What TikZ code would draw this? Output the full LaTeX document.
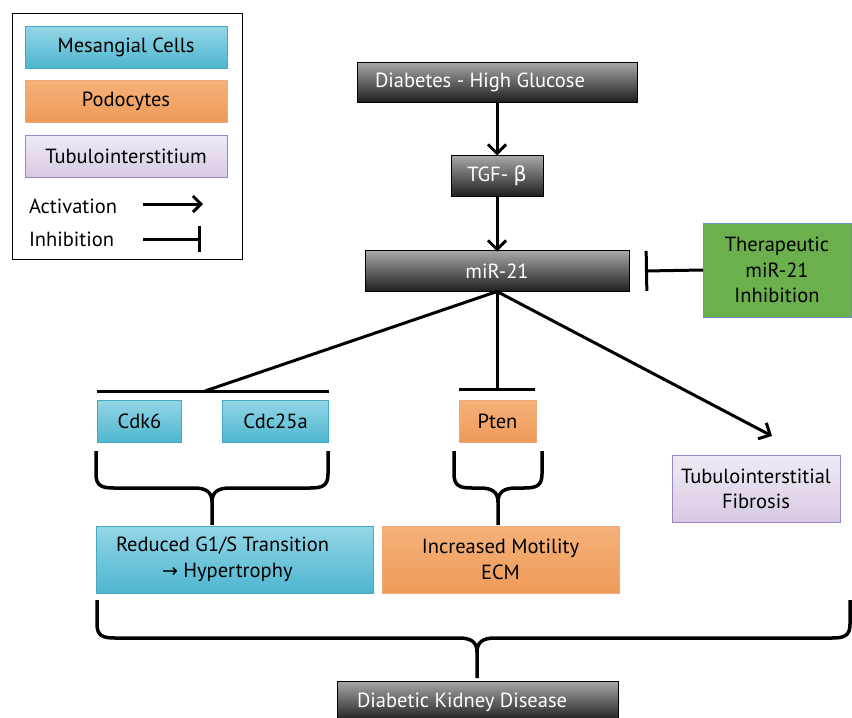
\documentclass[tikz,border=0pt]{standalone}
\usepackage{fontspec}
\setmainfont{PT Sans}
\newfontfamily\symfont{DejaVu Sans}
\usetikzlibrary{arrows.meta}
\definecolor{cyanT}{HTML}{95D6E6}
\definecolor{cyanB}{HTML}{4DB6CF}
\definecolor{cyanD}{HTML}{45A9C2}
\definecolor{oranT}{HTML}{F5B27A}
\definecolor{oranB}{HTML}{EE9A58}
\definecolor{oranD}{HTML}{F0A878}
\definecolor{purpT}{HTML}{F0EAF4}
\definecolor{purpB}{HTML}{D7CAE3}
\definecolor{purpD}{HTML}{9A86C4}
\definecolor{greenF}{HTML}{6BB04C}
\definecolor{greenD}{HTML}{6A8FC8}
\definecolor{darkT}{HTML}{A8A8A8}
\definecolor{darkB}{HTML}{1E1E1E}
\tikzset{
  txt/.style={inner sep=0pt, outer sep=0pt, font=\fontsize{20.5}{25.5}\selectfont},
  base/.style={rectangle, inner sep=0pt, outer sep=0pt, align=center, font=\fontsize{20.5}{25.5}\selectfont, line width=0.8pt},
  mesbox/.style={base, draw=cyanD, top color=cyanT, bottom color=cyanB, text=black},
  podbox/.style={base, draw=oranD, top color=oranT, bottom color=oranB, text=black},
  tubbox/.style={base, draw=purpD, top color=purpT, bottom color=purpB, text=black},
  darkbox/.style={base, draw=black, top color=darkT, bottom color=darkB, text=white},
  greenbox/.style={base, draw=greenD, fill=greenF, text=black},
  act/.style={line width=3pt, -{Straight Barb[length=9pt,width=18pt,line width=3pt]}},
  plain/.style={line width=3pt},
  brace/.style={line width=3.5pt, line join=round},
}
\newcommand{\mybrace}[6]{% xl xr xm ytop yh ytip
  \draw[brace] (#1,#4) -- (#1,#5-14) .. controls (#1,#5-2) and (#1+6,#5) .. (#1+18,#5)
    -- (#3-18,#5) .. controls (#3-6,#5) and (#3,#5+4) .. (#3,#5+14) -- (#3,#6);
  \draw[brace] (#2,#4) -- (#2,#5-14) .. controls (#2,#5-2) and (#2-6,#5) .. (#2-18,#5)
    -- (#3+18,#5) .. controls (#3+6,#5) and (#3,#5+4) .. (#3,#5+14);
}
\begin{document}
\begin{tikzpicture}[x=1pt,y=-1pt]
\useasboundingbox[fill=white] (0,0) rectangle (852,718);

% legend
\node[draw=black, line width=1pt, minimum width=230pt, minimum height=246pt, anchor=north west, inner sep=0pt] (legend) at (12,13) {};
\node[mesbox, minimum width=202pt, minimum height=42pt] (lmes) at (126,47) {Mesangial Cells};
\node[podbox, minimum width=202pt, minimum height=42pt] (lpod) at (126,101) {Podocytes};
\node[tubbox, minimum width=202pt, minimum height=42pt] (ltub) at (126,156) {Tubulointerstitium};
\node[txt, anchor=west] (lact) at (29,206) {Activation};
\node[txt, anchor=west] (linh) at (29,239) {Inhibition};
\coordinate (la1) at (143,204);
\coordinate (la2) at (203,204);
\coordinate (li1) at (143,239);
\coordinate (li2) at (201,239);
\draw[line width=3pt, -{Straight Barb[length=8pt,width=16pt,line width=3pt]}] (la1) -- (la2);
\draw[line width=3pt, -{Bar[width=26pt,line width=3pt]}] (li1) -- (li2);

% main chain
\node[darkbox, minimum width=280pt, minimum height=40pt] (diab) at (497,82) {};
\node[txt, text=white, anchor=west] (diabt) at ([xshift=18pt]diab.west) {Diabetes - High Glucose};
\node[darkbox, minimum width=92pt, minimum height=41pt] (tgf) at (497,176) {TGF- {\symfont β}};
\node[darkbox, minimum width=264pt, minimum height=41pt] (mir) at (497,271) {miR-21};
\node[greenbox, minimum width=148pt, minimum height=94pt] (ther) at (777,270) {Therapeutic\\miR-21\\Inhibition};

\draw[act] (diab.south) -- (tgf.north);
\draw[act] (tgf.south) -- ([yshift=-1pt]mir.north);
\draw[line width=3pt, -{Bar[width=40pt,line width=3pt]}] (ther.west) -- ([xshift=16pt]mir.east);

% targets
\node[mesbox, minimum width=84pt, minimum height=42pt] (cdk) at (139.5,421) {Cdk6};
\node[mesbox, minimum width=106pt, minimum height=42pt] (cdc) at (275.5,421) {Cdc25a};
\node[podbox, minimum width=77pt, minimum height=42pt] (pten) at (497.5,421) {Pten};
\node[tubbox, minimum width=168pt, minimum height=67pt] (fib) at (756,489) {Tubulointerstitial\\Fibrosis};

\coordinate (barL1) at (97,391);
\coordinate (barL2) at (329,391);
\coordinate (barLm) at (205,391);
\coordinate (barP) at (497,391);
\draw[plain] (barL1) -- (barL2);
\draw[plain] (mir.south) -- (barLm);
\draw[line width=3pt, -{Bar[width=76pt,line width=3pt]}] (mir.south) -- (barP);
\draw[act] (mir.south) -- (772,436);

% outcomes
\node[mesbox, minimum width=277pt, minimum height=67pt] (red) at (234.5,559.5) {};
\node[txt, anchor=west, align=left] (redt) at ([xshift=20pt]red.west) {Reduced G1/S Transition\\\hspace{46pt}{\symfont\fontsize{19}{20}\selectfont →} Hypertrophy};
\node[podbox, minimum width=237pt, minimum height=67pt] (mot) at (500.5,559.5) {Increased Motility\\ECM};
\node[darkbox, minimum width=281pt, minimum height=40pt, anchor=north] (dkd) at (477.5,681) {};
\node[txt, text=white, anchor=west] (dkdt) at ([xshift=20pt,yshift=-1pt]dkd.west) {Diabetic Kidney Disease};

\mybrace{96}{328}{212}{451}{488}{525}
\mybrace{454}{542}{498}{451}{488}{525}
\mybrace{97}{850}{477}{600}{638}{678}
\end{tikzpicture}
\end{document}
